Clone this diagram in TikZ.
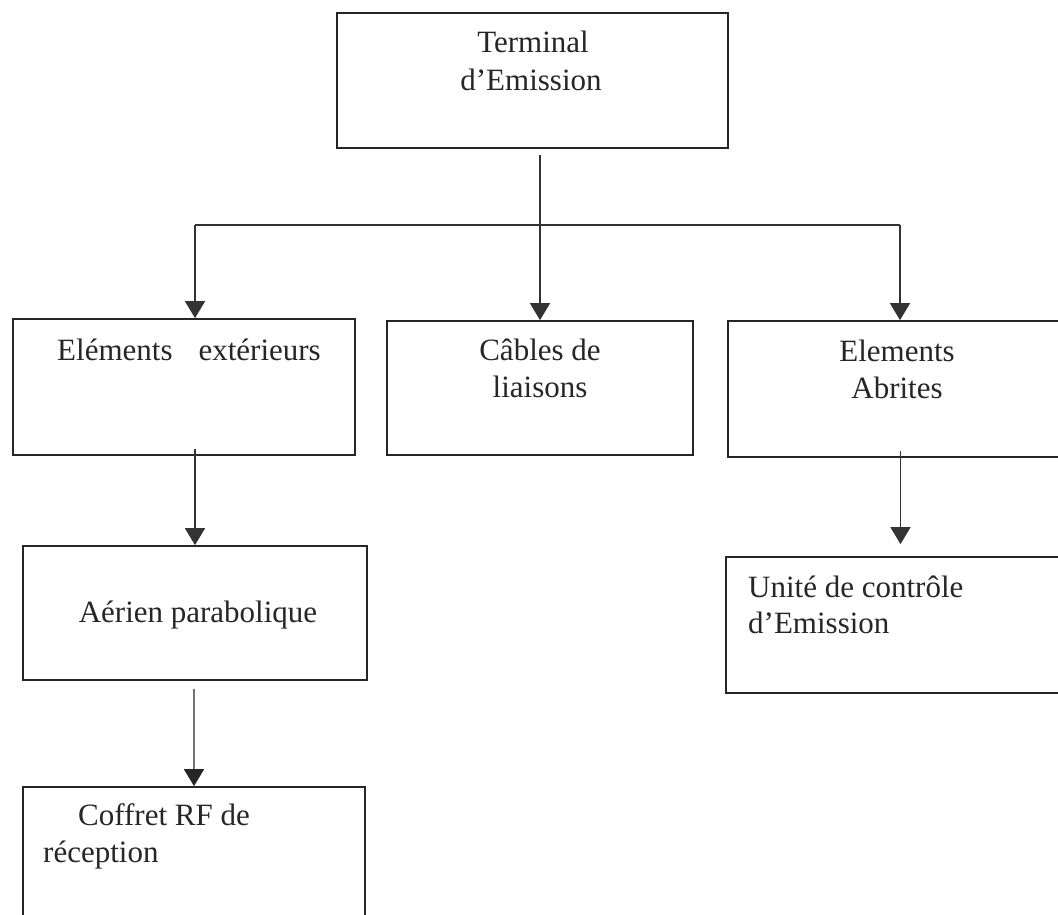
\documentclass[tikz,border=0pt]{standalone}
\usepackage{fontspec}
\setmainfont{Liberation Serif}
\usetikzlibrary{arrows.meta}

\begin{document}
\begin{tikzpicture}[x=1pt, y=-1pt,
  box/.style={draw=black!85, line width=1.7pt, rectangle, inner sep=0pt},
  lbl/.style={inner sep=0pt, text=black!85, font=\fontsize{31}{37}\selectfont},
  link/.style={draw=black!80, line width=1.4pt},
  arr/.style={link, -{Triangle[width=20pt, length=17pt]}}
]
\useasboundingbox (0,0) rectangle (1058,915);
\clip (0,0) rectangle (1058,915);
\fill[white] (0,0) rectangle (1058,915);

% boxes
\node[box, minimum width=391pt, minimum height=135pt] (top) at (532.5,80.5) {};
\node[box, minimum width=342pt, minimum height=136pt] (ext) at (184,387) {};
\node[box, minimum width=306pt, minimum height=134pt] (cab) at (540,388) {};
\node[box, minimum width=347pt, minimum height=136pt] (abr) at (901.5,389) {};
\node[box, minimum width=344pt, minimum height=134pt] (aer) at (195,613) {};
\node[box, minimum width=342pt, minimum height=163pt] (cof) at (194,868.5) {};
\node[box, minimum width=349pt, minimum height=136pt] (uni) at (900.5,625) {};

% texts
\node[lbl, anchor=base] (t1) at (533,53) {Terminal};
\node[lbl, anchor=base] (t2) at (531,91) {d’Emission};
\node[lbl, anchor=base west] (t3) at (57,360) {Eléments\hspace{26pt}extérieurs};
\node[lbl, anchor=base] (t4) at (540,360) {Câbles de};
\node[lbl, anchor=base] (t5) at (540,397) {liaisons};
\node[lbl, anchor=base] (t6) at (897,361) {Elements};
\node[lbl, anchor=base] (t7) at (897,398) {Abrites};
\node[lbl, anchor=base] (t8) at (198,622) {Aérien parabolique};
\node[lbl, anchor=base west] (t9) at (78,825) {Coffret RF de};
\node[lbl, anchor=base west] (t10) at (43,862) {réception};
\node[lbl, anchor=base west] (t11) at (748,597) {Unité de contrôle};
\node[lbl, anchor=base west] (t12) at (748,633) {d’Emission};

% branching connectors
\coordinate (jl) at (195,225);
\coordinate (jr) at (900,225);
\draw[link] (jl) -- (jr);
\draw[arr, shorten <=6pt] (top.south -| cab.north) -- (cab.north);
\draw[arr] (jl) -- (jl |- ext.north);
\draw[arr] (jr) -- (jr |- abr.north);

% lower connectors
\draw[arr, shorten <=-7pt] (ext.south -| aer.north) -- (aer.north);
\draw[arr, draw=black!55, -{Triangle[width=20pt, length=17pt, color=black!85]}, shorten <=8pt] (aer.south -| cof.north) -- (cof.north);
\draw[arr, shorten <=-7pt, shorten >=12pt] (abr.south -| uni.north) -- (uni.north);
\end{tikzpicture}
\end{document}
